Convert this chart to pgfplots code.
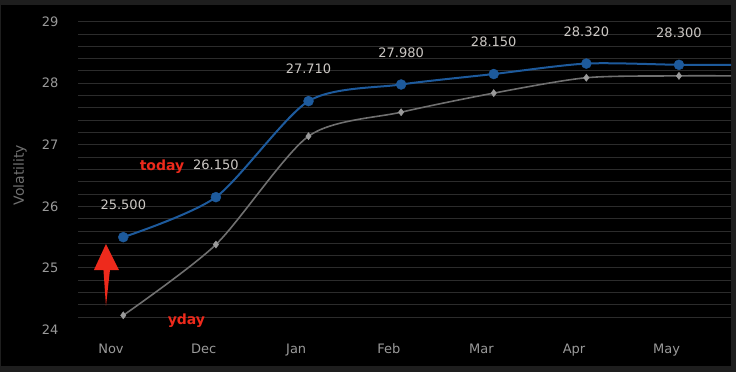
\documentclass[border=0pt]{standalone}
\usepackage{pgfplots}
\pgfplotsset{compat=1.18}
\usepackage{fontspec}
\setmainfont{DejaVu Sans}
\definecolor{bordergray}{HTML}{1E1E1E}
\definecolor{gridc}{HTML}{2C2C2C}
\definecolor{tickc}{HTML}{9A9A9A}
\definecolor{labc}{HTML}{CCC8C4}
\definecolor{todayblue}{HTML}{1D5A9C}
\definecolor{ydayline}{HTML}{707070}
\definecolor{ydaymark}{HTML}{9A9A9A}
\definecolor{arrowred}{HTML}{EE2A1C}
\definecolor{baseline}{HTML}{26344A}
\begin{document}
\begin{tikzpicture}[x=1pt,y=1pt]
\fill[bordergray] (0,0) rectangle (736,372);
\fill[black] (1,6) rectangle (731,367);
\begin{axis}[
  at={(78pt,42.5pt)}, anchor=south west,
  scale only axis, width=653pt, height=307.8pt,
  xmin=-0.356, xmax=6.695, ymin=24, ymax=29,
  xtick={0,...,6}, xticklabels={Nov,Dec,Jan,Feb,Mar,Apr,May},
  ytick={24,...,29}, minor y tick num=4,
  ymajorgrids, yminorgrids,
  major grid style={gridc, line width=1pt},
  minor grid style={gridc, line width=1pt},
  axis line style={draw=none},
  major tick length=0pt, minor tick length=0pt,
  tick label style={font=\fontsize{13}{15}\selectfont, text=tickc},
  yticklabel style={xshift=-16pt},
  xticklabel style={yshift=-11pt},
  ylabel={Volatility},
  every axis y label/.style={at={(rel axis cs:-0.0888,0.502)}, rotate=90, anchor=center, font=\fontsize{14}{16}\selectfont, text=ydayline},
  /pgf/number format/assume math mode=true,
  clip=true,
]
\draw[baseline, line width=1pt] (rel axis cs:0,0) -- (rel axis cs:1,0);
% yday line
\addplot[ydayline, line width=1.6pt, smooth, tension=0.45, no marks] coordinates {
  (0.133,24.23) (1.133,25.38) (2.133,27.14) (3.133,27.53) (4.133,27.84) (5.133,28.09) (6.133,28.12) (6.695,28.12)
};
\addplot[only marks, mark=diamond*, mark size=3.6pt, draw=ydaymark, fill=ydaymark] coordinates {
  (0.133,24.23) (1.133,25.38) (2.133,27.14) (3.133,27.53) (4.133,27.84) (5.133,28.09) (6.133,28.12)
};
% today line
\addplot[todayblue, line width=2pt, smooth, tension=0.45, no marks] coordinates {
  (0.133,25.50) (1.133,26.15) (2.133,27.71) (3.133,27.98) (4.133,28.15) (5.133,28.32) (6.133,28.30) (6.695,28.30)
};
\addplot[only marks, mark=*, mark size=5pt, draw=todayblue, fill=todayblue,
  nodes near coords, point meta=y,
  every node near coord/.append style={font=\fontsize{13}{15}\selectfont, text=labc, yshift=23.5pt,
    /pgf/number format/.cd, fixed, fixed zerofill, precision=3}] coordinates {
  (0.133,25.50) (1.133,26.15) (2.133,27.71) (3.133,27.98) (4.133,28.15) (5.133,28.32) (6.133,28.30)
};
% annotations
\node[anchor=base, text=arrowred, font=\bfseries\fontsize{14}{16}\selectfont] at (axis cs:0.551,26.58) {today};
\node[anchor=base, text=arrowred, font=\bfseries\fontsize{14}{16}\selectfont] at (axis cs:0.815,24.089) {yday};
\fill[arrowred] (axis cs:-0.054,25.389) -- (axis cs:0.086,24.9665) -- (axis cs:-0.011,24.9665)
  -- (axis cs:-0.054,24.382) -- (axis cs:-0.081,24.9665) -- (axis cs:-0.184,24.9665) -- cycle;
\end{axis}
\end{tikzpicture}
\end{document}
